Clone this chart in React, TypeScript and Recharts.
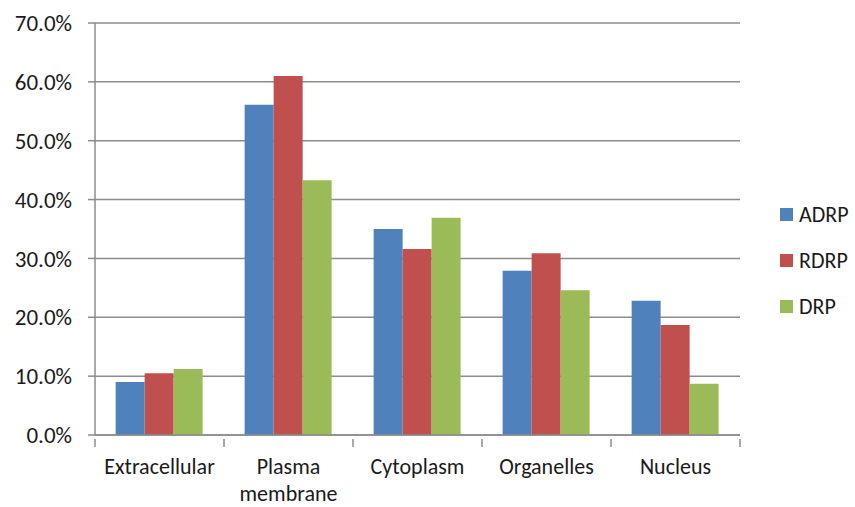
import { BarChart, Bar, XAxis, YAxis, CartesianGrid } from "recharts";

// Subcellular location share per gene set, Excel-2007 style grouped bars.
const categories = ["Extracellular", "Plasma membrane", "Cytoplasm", "Organelles", "Nucleus"];
const adrp = [9.0, 56.1, 35.0, 27.9, 22.8];
const rdrp = [10.5, 61.0, 31.6, 30.9, 18.7];
const drp = [11.2, 43.3, 36.9, 24.6, 8.7];
const yTicks = [0, 10, 20, 30, 40, 50, 60, 70];

const SERIES = [
  { key: "ADRP", color: "#4F81BD" },
  { key: "RDRP", color: "#C0504D" },
  { key: "DRP", color: "#9BBB59" },
];

const data = categories.map((name, i) => ({
  name,
  ADRP: adrp[i],
  RDRP: rdrp[i],
  DRP: drp[i],
}));

const FONT = "Carlito, Calibri, 'Liberation Sans', Arial, sans-serif";
const AXIS = "#8c8c8c";
const BAND = 645 / categories.length;

function CategoryTick(props: any) {
  const { x, y, payload, index } = props;
  const words = String(payload.value).split(" ");
  const lines = words.length > 1 && payload.value.length > 13 ? words : [payload.value];
  const isLast = index === categories.length - 1;
  return (
    <g>
      <line x1={x - BAND / 2} x2={x - BAND / 2} y1={y - 4} y2={y + 4} stroke={AXIS} strokeWidth={1.5} />
      {isLast && (
        <line x1={x + BAND / 2} x2={x + BAND / 2} y1={y - 4} y2={y + 4} stroke={AXIS} strokeWidth={1.5} />
      )}
      <text x={x} y={y + 31} textAnchor="middle" fontSize={22} fill="#1a1a1a" fontFamily={FONT}>
        {lines.map((l, i) => (
          <tspan key={i} x={x} dy={i === 0 ? 0 : 27}>
            {l}
          </tspan>
        ))}
      </text>
    </g>
  );
}

function LegendBox() {
  return (
    <div style={{ position: "absolute", left: 780, top: 191, fontFamily: FONT, fontSize: 22, color: "#1a1a1a" }}>
      {SERIES.map((s) => (
        <div key={s.key} style={{ display: "flex", alignItems: "center", height: 46 }}>
          <span style={{ width: 13, height: 13, background: s.color, marginRight: 6, display: "inline-block" }} />
          <span>{s.key}</span>
        </div>
      ))}
    </div>
  );
}

export default function App() {
  return (
    <div style={{ position: "absolute", left: 0, top: 0, width: 855, height: 507, background: "#fff" }}>
      <BarChart
        width={855}
        height={507}
        data={data}
        margin={{ top: 23, right: 115, bottom: 12, left: 0 }}
        barCategoryGap="16%"
        barGap={0}
      >
        <CartesianGrid vertical={false} stroke={AXIS} strokeWidth={1.5} />
        <XAxis
          dataKey="name"
          height={60}
          stroke={AXIS}
          strokeWidth={1.5}
          tickLine={false}
          interval={0}
          tick={<CategoryTick />}
        />
        <YAxis
          width={95}
          domain={[0, 70]}
          ticks={yTicks}
          interval={0}
          stroke={AXIS}
          strokeWidth={1.5}
          tickSize={7}
          tickMargin={16}
          tickFormatter={(v: number) => `${v.toFixed(1)}%`}
          tick={{ fill: "#1a1a1a", fontSize: 23, fontFamily: FONT }}
        />
        {SERIES.map((s) => (
          <Bar key={s.key} dataKey={s.key} fill={s.color} isAnimationActive={false} />
        ))}
      </BarChart>
      <LegendBox />
    </div>
  );
}
